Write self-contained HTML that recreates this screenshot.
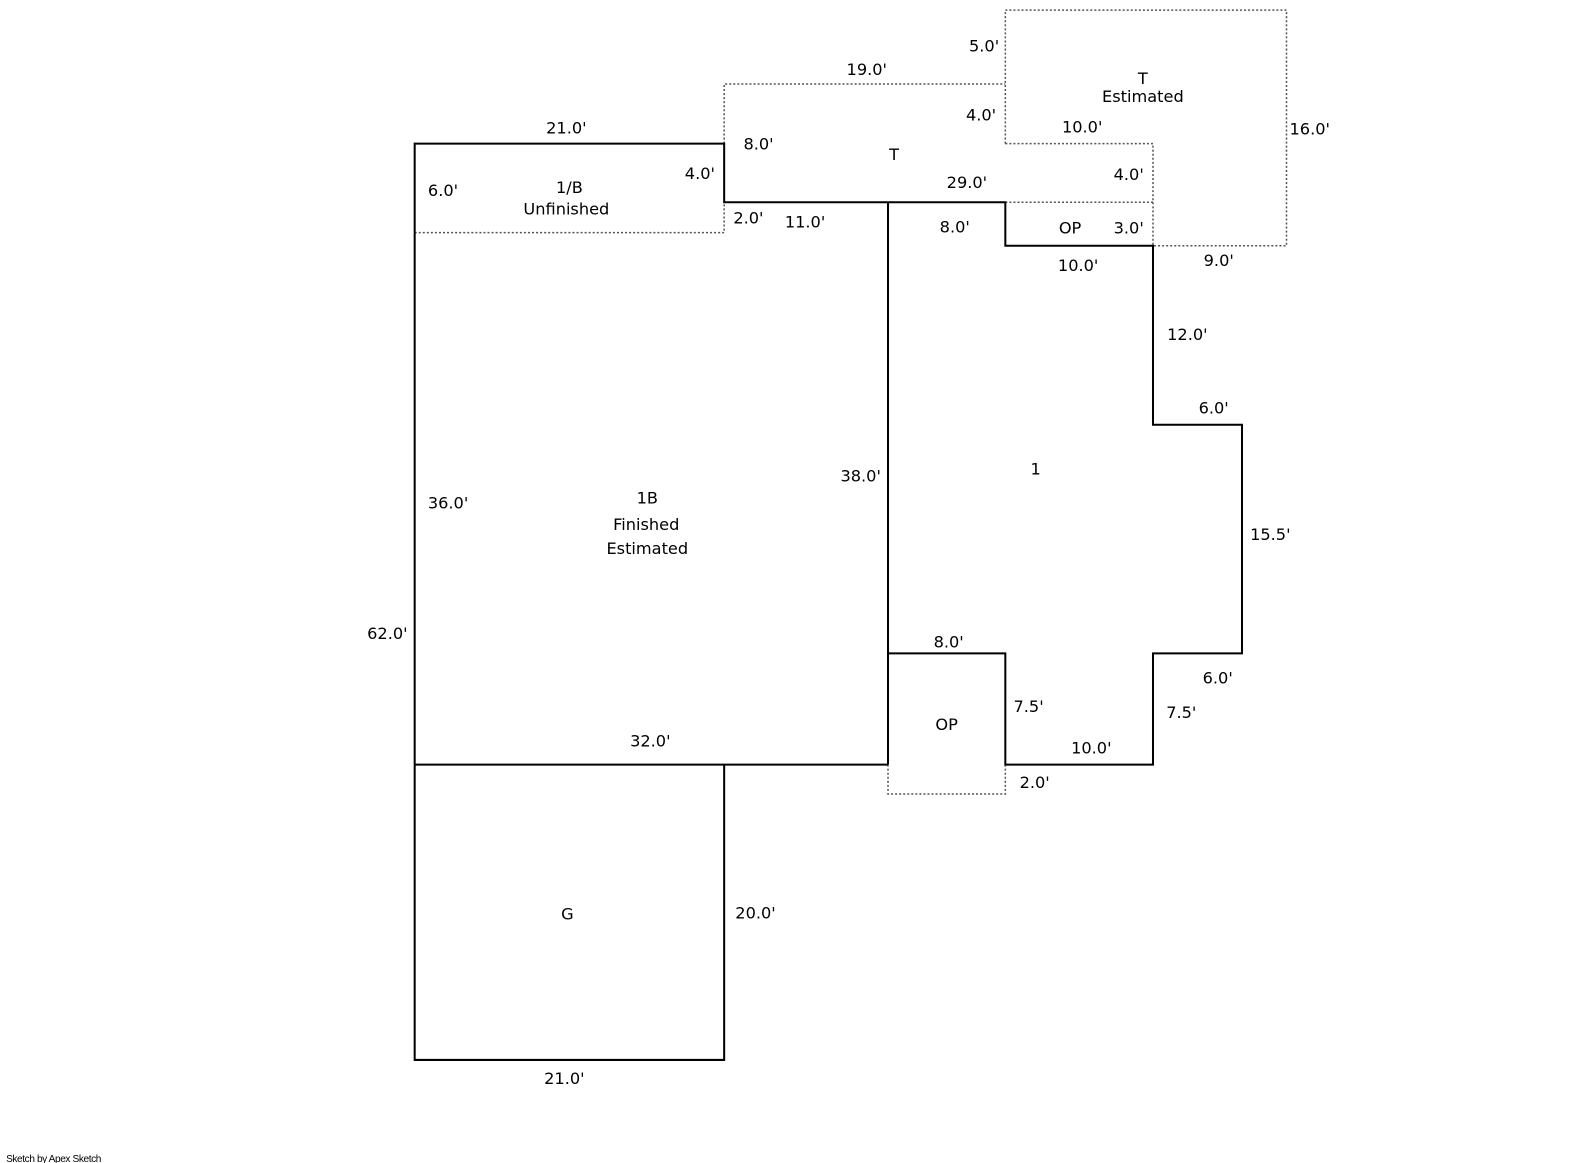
<!DOCTYPE html>
<html><head><style>
html,body{margin:0;padding:0;background:#fff;}
svg{display:block;}
text{font-family:"DejaVu Sans","Liberation Sans",sans-serif;font-size:16px;fill:#000;}
</style></head><body>
<svg width="1585" height="1163" viewBox="0 0 1585 1163" xmlns="http://www.w3.org/2000/svg">
<g transform="scale(1.0114)">
<g fill="none" stroke="#555" stroke-width="1.5" stroke-dasharray="2,2">
<polyline points="716,142 716,83 994,83"/>
<polyline points="994,142 994,10 1272,10 1272,243 1140,243"/>
<polyline points="994,142 1140,142 1140,243"/>
<line x1="994" y1="200" x2="1140" y2="200"/>
<polyline points="410,230 716,230 716,200"/>
<polyline points="878,756 878,785 994,785 994,756"/>
</g>
<g fill="none" stroke="#000" stroke-width="2">
<polyline points="410,756 410,142 716,142 716,200 994,200 994,243 1140,243 1140,420 1228,420 1228,646 1140,646 1140,756 994,756 994,646 878,646"/>
<line x1="878" y1="200" x2="878" y2="756"/>
<line x1="410" y1="756" x2="878" y2="756"/>
<polyline points="410,756 410,1048 716,1048 716,756"/>
</g>
<g text-anchor="middle">
<text x="560" y="132">21.0'</text>
<text x="857" y="74">19.0'</text>
<text x="973" y="51">5.0'</text>
<text x="1130" y="83">T</text>
<text x="1130" y="101">Estimated</text>
<text x="970" y="119">4.0'</text>
<text x="1070" y="131">10.0'</text>
<text x="1295" y="133">16.0'</text>
<text x="750" y="148">8.0'</text>
<text x="884" y="158">T</text>
<text x="692" y="177">4.0'</text>
<text x="956" y="186">29.0'</text>
<text x="1116" y="178">4.0'</text>
<text x="438" y="194">6.0'</text>
<text x="563" y="191">1/B</text>
<text x="560" y="212">Unfinished</text>
<text x="740" y="221">2.0'</text>
<text x="796" y="225">11.0'</text>
<text x="944" y="230">8.0'</text>
<text x="1058" y="231">OP</text>
<text x="1116" y="231">3.0'</text>
<text x="1066" y="268">10.0'</text>
<text x="1205" y="263">9.0'</text>
<text x="1174" y="336">12.0'</text>
<text x="1200" y="409">6.0'</text>
<text x="1024" y="469">1</text>
<text x="851" y="476">38.0'</text>
<text x="443" y="503">36.0'</text>
<text x="640" y="498">1B</text>
<text x="639" y="524">Finished</text>
<text x="640" y="548">Estimated</text>
<text x="1256" y="534">15.5'</text>
<text x="383" y="632">62.0'</text>
<text x="938" y="640">8.0'</text>
<text x="1204" y="676">6.0'</text>
<text x="1017" y="704">7.5'</text>
<text x="1168" y="710">7.5'</text>
<text x="936" y="722">OP</text>
<text x="643" y="738">32.0'</text>
<text x="1079" y="745">10.0'</text>
<text x="1023" y="779">2.0'</text>
<text x="561" y="909">G</text>
<text x="747" y="908">20.0'</text>
<text x="558" y="1072">21.0'</text>
</g>
<text x="6" y="1149" style="font-size:10px;font-family:'Liberation Sans',sans-serif;letter-spacing:-0.4px">Sketch by Apex Sketch</text>
</g>
</svg>
</body></html>
